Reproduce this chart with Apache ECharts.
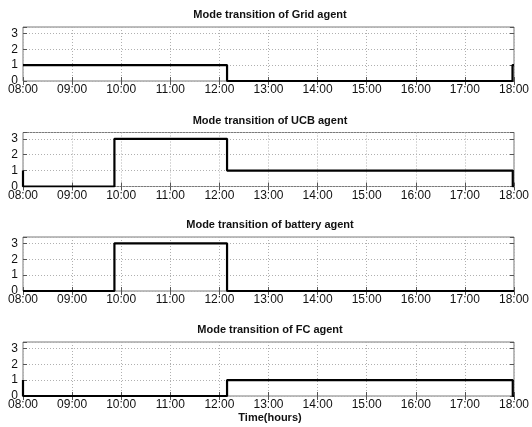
<!DOCTYPE html>
<html>
<head>
<meta charset="utf-8">
<script src="https://cdn.jsdelivr.net/npm/echarts@6/dist/echarts.min.js"></script>
<style>html,body{margin:0;padding:0;background:#fff;}#c{width:532px;height:427px;}</style>
</head>
<body>
<div id="c"></div>
<script>
// Data: transition times (hours of day) and mode values (held until the next time)
const panelTitles = ['Mode transition of Grid agent', 'Mode transition of UCB agent', 'Mode transition of battery agent', 'Mode transition of FC agent'];
const gridTimes = [8, 12.156, 17.97, 18];
const gridModes = [1, 0, 1, 1];
const ucbTimes = [8, 8, 9.862, 12.156, 17.975, 18];
const ucbModes = [1, 0, 3, 1, 0, 0];
const batteryTimes = [8, 9.862, 12.156, 18];
const batteryModes = [0, 3, 0, 0];
const fcTimes = [8, 8, 12.156, 17.975, 18];
const fcModes = [1, 0, 1, 0, 0];
const xTickLabels = ['08:00','09:00','10:00','11:00','12:00','13:00','14:00','15:00','16:00','17:00','18:00'];
const yTicks = [0, 1, 2, 3];
const xAxisTitle = 'Time(hours)';

const seriesTimes = [gridTimes, ucbTimes, batteryTimes, fcTimes];
const seriesModes = [gridModes, ucbModes, batteryModes, fcModes];

const FONT = 'Liberation Sans, Arial, sans-serif';
const tops = [27, 132.5, 237, 342];
const plotH = 54;
const left = 23, right = 15;

const grids = [], xAxes = [], yAxes = [], series = [], titles = [];
tops.forEach((t, i) => {
  grids.push({left: left, right: right, top: t, height: plotH, show: true, borderColor: '#7a7a7a', borderWidth: 1, backgroundColor: 'transparent'});
  const baseX = {
    type: 'value', gridIndex: i, min: 8, max: 18, interval: 1,
    axisLine: {show: false},
    axisTick: {show: true, inside: true, length: 4, lineStyle: {color: '#555'}},
  };
  xAxes.push(Object.assign({}, baseX, {
    position: 'bottom',
    axisLabel: {show: true, margin: 3, fontSize: 12, color: '#111', fontFamily: FONT,
      formatter: v => xTickLabels[Math.round(v - 8)] || ''},
    splitLine: {show: true, lineStyle: {color: '#b0b0b0', type: [1, 2], width: 1}}
  }));
  xAxes.push(Object.assign({}, baseX, {
    position: 'top', axisLabel: {show: false}, splitLine: {show: false}
  }));
  const baseY = {
    type: 'value', gridIndex: i, min: 0, max: 3.4, interval: 1,
    axisLine: {show: false},
    axisTick: {show: true, inside: true, length: 4, lineStyle: {color: '#555'},
      interval: 0},
  };
  yAxes.push(Object.assign({}, baseY, {
    position: 'left',
    axisLabel: {show: true, margin: 5, fontSize: 12, color: '#111', fontFamily: FONT,
      formatter: v => (yTicks.indexOf(v) >= 0 ? String(v) : '')},
    splitLine: {show: true, lineStyle: {color: '#b0b0b0', type: [1, 2], width: 1}}
  }));
  yAxes.push(Object.assign({}, baseY, {
    position: 'right', axisLabel: {show: false}, splitLine: {show: false}
  }));
  series.push({
    type: 'line', xAxisIndex: 2 * i, yAxisIndex: 2 * i, step: 'end',
    data: seriesTimes[i].map((x, k) => [x, seriesModes[i][k]]),
    showSymbol: false, symbol: 'none', clip: true,
    lineStyle: {color: '#000', width: 2.2}, animation: false
  });
  titles.push({text: panelTitles[i], left: 270, top: t - 18, textAlign: 'center', padding: 0,
    textStyle: {fontSize: 11, fontWeight: 'bold', color: '#111', fontFamily: FONT, lineHeight: 12}});
});
titles.push({text: xAxisTitle, left: 270, top: 412, textAlign: 'center', padding: 0,
  textStyle: {fontSize: 11, fontWeight: 'bold', color: '#111', fontFamily: FONT, lineHeight: 12}});

const chart = echarts.init(document.getElementById('c'), null, {renderer: 'canvas'});
chart.setOption({
  animation: false,
  backgroundColor: '#fff',
  title: titles,
  grid: grids,
  xAxis: xAxes,
  yAxis: yAxes,
  series: series
});
</script>
</body>
</html>
